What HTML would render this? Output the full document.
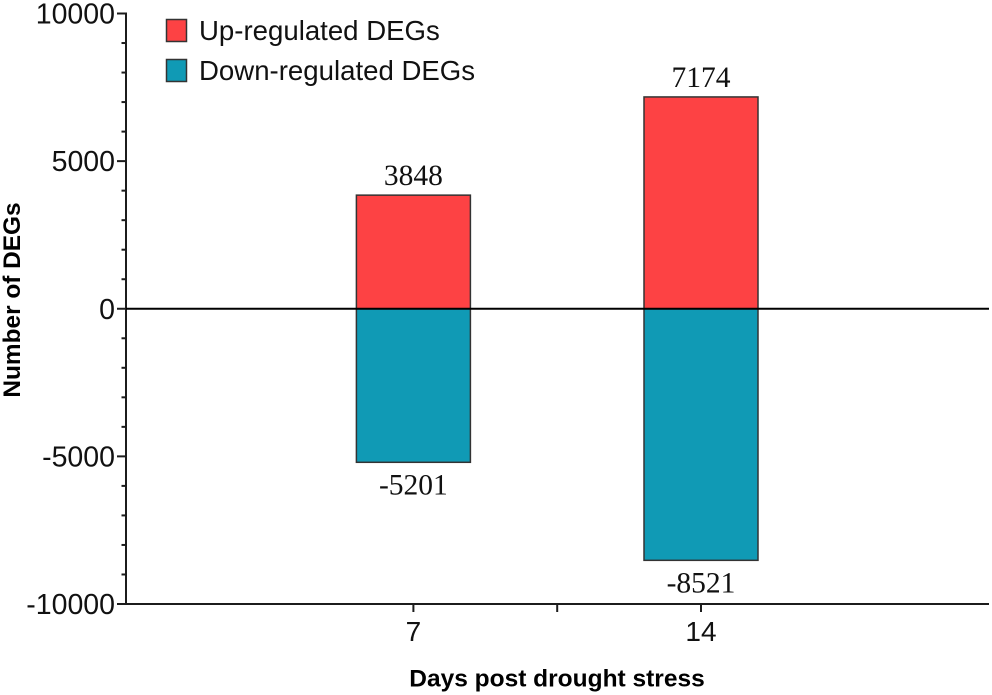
<!DOCTYPE html>
<html>
<head>
<meta charset="utf-8">
<style>
html,body{margin:0;padding:0;background:#fff;width:992px;height:695px;overflow:hidden}
svg{display:block}
</style>
</head>
<body>
<svg id="chart" xmlns="http://www.w3.org/2000/svg" width="992" height="695" viewBox="0 0 992 695"></svg>
<script>
const categories = ['7', '14'];
const upValues = [3848, 7174];
const downValues = [-5201, -8521];
const upLabels = ['3848', '7174'];
const downLabels = ['-5201', '-8521'];
const yTickValues = [10000, 5000, 0, -5000, -10000];
const yMinorStep = 1000;
const yMin = -10000;
const yMax = 10000;

const NS = 'http://www.w3.org/2000/svg';
const svg = document.getElementById('chart');
const SANS = '"Liberation Sans", sans-serif';
const SERIF = '"Liberation Serif", serif';
const axisColor = '#1c1c1c';

function yScale(v) { return 13.5 + (yMax - v) / (yMax - yMin) * 590.5; }
function xScale(i) { return 413.4 + i * 287.6; }

function make(tag, attrs, text) {
  const el = document.createElementNS(NS, tag);
  for (const k in attrs) el.setAttribute(k, attrs[k]);
  if (text !== undefined) el.textContent = text;
  svg.appendChild(el);
  return el;
}

const barW = 114;
categories.forEach(function (c, i) {
  const cx = xScale(i);
  const y0 = yScale(0);
  const yUp = yScale(upValues[i]);
  const yDown = yScale(downValues[i]);

  const up = make('rect', {x: cx - barW / 2, y: yUp, width: barW, height: y0 - yUp, fill: '#fd4244', stroke: '#333', 'stroke-width': 1.5});
  
  

  const down = make('rect', {x: cx - barW / 2, y: y0, width: barW, height: yDown - y0, fill: '#109ab5', stroke: '#333', 'stroke-width': 1.5});
  
  

  const lu = make('text', {x: cx, y: yUp - 10, 'text-anchor': 'middle', 'font-family': SERIF, 'font-size': 29.5, fill: '#111'}, upLabels[i]);
  
  

  const ld = make('text', {x: cx, y: yDown + 32, 'text-anchor': 'middle', 'font-family': SERIF, 'font-size': 29.5, fill: '#111'}, downLabels[i]);
  
  

  const tick = make('line', {x1: cx, x2: cx, y1: yScale(yMin), y2: yScale(yMin) + 8, stroke: axisColor, 'stroke-width': 2});
  
  

  const tl = make('text', {x: cx, y: 641, 'text-anchor': 'middle', 'font-family': SANS, 'font-size': 28, fill: '#111'}, c);
  
  
});

const midTick = make('line', {x1: (xScale(0) + xScale(1)) / 2, x2: (xScale(0) + xScale(1)) / 2, y1: yScale(yMin), y2: yScale(yMin) + 8, stroke: axisColor, 'stroke-width': 2});



for (let v = yMin; v <= yMax; v += yMinorStep) {
  const major = yTickValues.indexOf(v) >= 0;
  const t = make('line', {x1: major ? 117 : 121.5, x2: 126, y1: yScale(v), y2: yScale(v), stroke: axisColor, 'stroke-width': 2});
  
  
}

yTickValues.forEach(function (v) {
  const l = make('text', {x: 115, y: yScale(v) + 10, 'text-anchor': 'end', 'font-family': SANS, 'font-size': 28.5, fill: '#111'}, String(v).replace('-', '\u2011'));
  l.textContent = String(v);
  
  
});

const yAxis = make('line', {x1: 126, x2: 126, y1: yScale(yMax) - 1, y2: yScale(yMin) + 1, stroke: axisColor, 'stroke-width': 2});



const xAxis = make('line', {x1: 126, x2: 989, y1: yScale(yMin), y2: yScale(yMin), stroke: axisColor, 'stroke-width': 2});



const zero = make('line', {x1: 126, x2: 989, y1: yScale(0), y2: yScale(0), stroke: '#000', 'stroke-width': 2});



const yTitle = make('text', {x: 0, y: 0, transform: 'translate(20 300) rotate(-90)', 'text-anchor': 'middle', 'font-family': SANS, 'font-weight': 700, 'font-size': 24.4, fill: '#000'}, 'Number of DEGs');



const xTitle = make('text', {x: 557, y: 686.5, 'text-anchor': 'middle', 'font-family': SANS, 'font-weight': 700, 'font-size': 24.5, fill: '#000'}, 'Days post drought stress');



const sw1 = make('rect', {x: 166.5, y: 19.5, width: 20, height: 22, fill: '#fd4244', stroke: '#333', 'stroke-width': 1.5});


const lt1 = make('text', {x: 199, y: 40, 'font-family': SANS, 'font-size': 27.6, fill: '#111'}, 'Up-regulated DEGs');



const sw2 = make('rect', {x: 166.5, y: 59.5, width: 20, height: 22, fill: '#109ab5', stroke: '#333', 'stroke-width': 1.5});


const lt2 = make('text', {x: 199, y: 80, 'font-family': SANS, 'font-size': 27.6, fill: '#111'}, 'Down-regulated DEGs');


</script>
</body>
</html>
